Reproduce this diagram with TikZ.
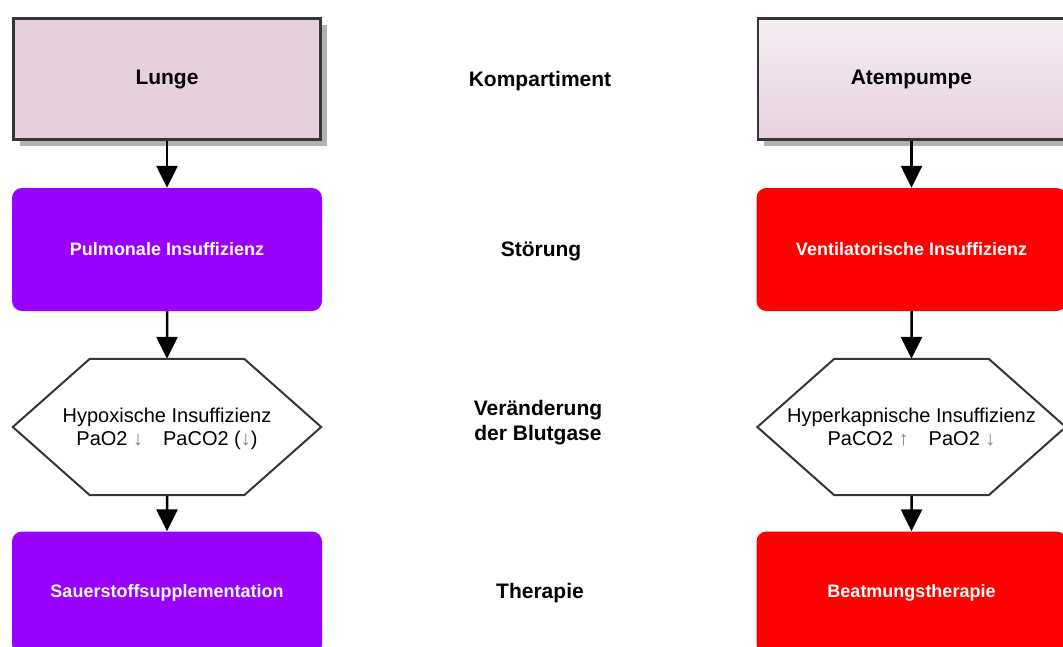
\documentclass[tikz,border=0pt]{standalone}
\usepackage{fontspec}
\setmainfont{Liberation Sans}
\usepackage{tikz}
\usetikzlibrary{shapes,arrows.meta,shadows}
\usepackage{xcolor}

\definecolor{lungpink}{HTML}{E6D0DE}
\definecolor{pumptop}{HTML}{F6EEF3}
\definecolor{darkline}{HTML}{363636}
\definecolor{purp}{HTML}{9900FF}
\definecolor{rot}{HTML}{FF0000}
\newcommand{\dn}{{\color{gray}↓}}
\newcommand{\up}{{\color{gray}↑}}

\begin{document}
\begin{tikzpicture}[x=1pt,y=-1pt,
level 1/.style={level distance=170.5pt},
level 2/.style={level distance=177.5pt},
level 3/.style={level distance=166pt}]
\tikzstyle{organ}=[rectangle,draw=darkline,line width=2.5pt,minimum width=307pt,minimum height=121pt,
  font=\fontsize{21}{24}\selectfont\bfseries,
  drop shadow={shadow xshift=6pt,shadow yshift=-6pt,fill=black!30,opacity=1}]
\tikzstyle{stoerung}=[rectangle,rounded corners=10pt,minimum width=310pt,minimum height=123pt,
  text=white,font=\fontsize{18}{21}\selectfont\bfseries]
\tikzstyle{gase}=[rectangle,minimum width=308pt,minimum height=136pt,align=center,
  text depth=0pt,font=\fontsize{20}{23}\selectfont]
\tikzstyle{hexline}=[draw=darkline,line width=2pt,line join=miter]
\tikzstyle{caption}=[align=center,font=\fontsize{21}{25}\selectfont\bfseries]
\tikzstyle{edge from parent}=[draw,line width=2.5pt,-{Triangle[width=21pt,length=22pt]}]

\useasboundingbox[fill=white] (0,0) rectangle (1063,646);

% linke Spalte
\node[organ,fill=lungpink] (lunge) at (167,79) {Lunge}
    child {
    node[stoerung,fill=purp] (pulm) {Pulmonale Insuffizienz}
    child {
        node[gase] (hypox) {Hypoxische Insuffizienz\\PaO2 \dn\quad PaCO2 (\dn)}
        child { node[stoerung,fill=purp] (sauer) {Sauerstoffsupplementation} }
    }
};

% rechte Spalte
\node[organ,top color=pumptop,bottom color=lungpink] (pumpe) at (911.5,79) {Atempumpe}
    child {
    node[stoerung,fill=rot] (vent) {Ventilatorische Insuffizienz}
    child {
        node[gase] (hyperk) {Hyperkapnische Insuffizienz\\PaCO2 \up\quad PaO2 \dn}
        child { node[stoerung,fill=rot] (beatm) {Beatmungstherapie} }
    }
};

% Sechsecke
\foreach \h in {hypox,hyperk}
  \draw[hexline] (\h.west) -- ([xshift=77pt]\h.north west) -- ([xshift=-77pt]\h.north east)
    -- (\h.east) -- ([xshift=-77pt]\h.south east) -- ([xshift=77pt]\h.south west) -- cycle;

% Mitte
\node[caption] (komp) at (540,81) {Kompartiment};
\node[caption] (stoer) at (541,251) {Störung};
\node[caption] (blut) at (538,423) {Veränderung\\der Blutgase};
\node[caption] (ther) at (540,593) {Therapie};

\end{tikzpicture}
\end{document}
